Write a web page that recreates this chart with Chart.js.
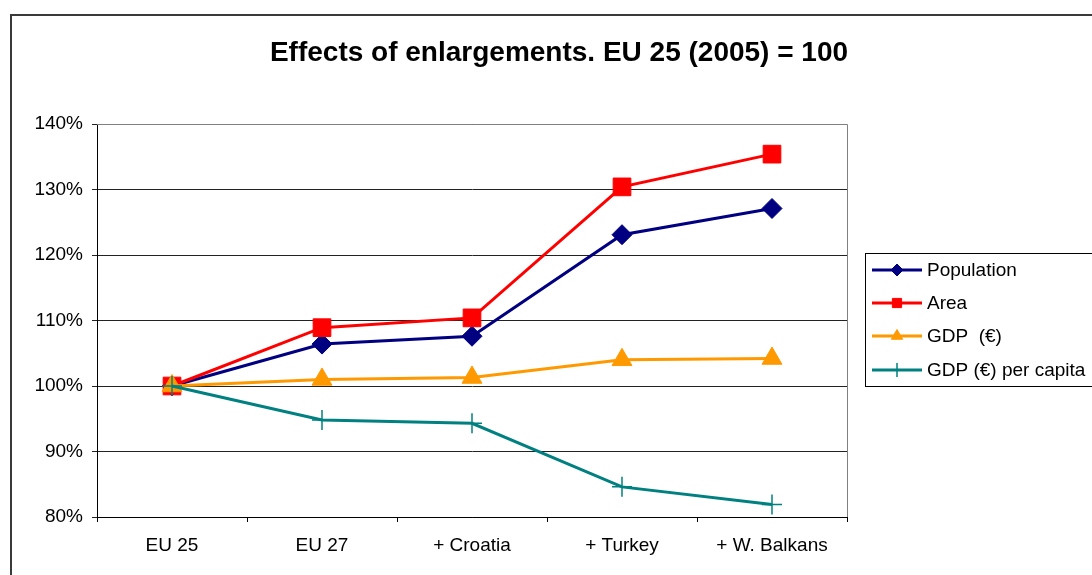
<!DOCTYPE html>
<html>
<head>
<meta charset="utf-8">
<title>Effects of enlargements</title>
<script src="https://cdn.jsdelivr.net/npm/chart.js@4"></script>
<style>
  html, body { margin: 0; padding: 0; background: #fff; }
  #wrap { width: 1092px; height: 575px; position: relative; }
</style>
</head>
<body>
<div id="wrap"><canvas id="chart" width="1092" height="575"></canvas></div>
<script>
// DATA
// =============================================================================

const CHART_TITLE = "Effects of enlargements. EU 25 (2005) = 100";
const categories = ["EU 25", "EU 27", "+ Croatia", "+ Turkey", "+ W. Balkans"];
const yTicks = [80, 90, 100, 110, 120, 130, 140];

const population = [100, 106.4, 107.6, 123.1, 127.1];
const area = [100, 108.9, 110.4, 130.4, 135.4];
const gdp = [100, 101.0, 101.3, 104.0, 104.2];
const gdpPerCapita = [100, 94.8, 94.3, 84.6, 81.9];

const seriesNames = ["Population", "Area", "GDP  (\u20ac)", "GDP (\u20ac) per capita"];

// LAYOUT / STYLE
// =============================================================================

const FONT = "'Liberation Sans', Arial, sans-serif";
const PLOT = { left: 97, right: 847, top: 124, bottom: 517 };

// Excel-like frame, title and boxed legend
const excelFramePlugin = {
  id: "excelFrame",
  beforeDraw(chart) {
    const { ctx } = chart;
    ctx.save();
    ctx.fillStyle = "#fff";
    ctx.fillRect(0, 0, chart.width, chart.height);
    ctx.strokeStyle = "#3a3a3a";
    ctx.lineWidth = 2;
    ctx.strokeRect(11, 15, 1200, 700);
    ctx.restore();
  },
  afterDatasetsDraw(chart) {
    const { ctx, chartArea } = chart;
    ctx.save();

    // plot area border (top / right in grey)
    ctx.strokeStyle = "#808080";
    ctx.lineWidth = 1;
    ctx.beginPath();
    ctx.moveTo(chartArea.left, Math.round(chartArea.top) + 0.5);
    ctx.lineTo(Math.round(chartArea.right) + 0.5, Math.round(chartArea.top) + 0.5);
    ctx.lineTo(Math.round(chartArea.right) + 0.5, chartArea.bottom);
    ctx.stroke();

    // title
    ctx.fillStyle = "#000";
    ctx.font = `bold 28px ${FONT}`;
    ctx.textAlign = "center";
    ctx.textBaseline = "middle";
    ctx.fillText(CHART_TITLE, 559, 53);

    // legend
    ctx.strokeStyle = "#000";
    ctx.lineWidth = 1;
    ctx.strokeRect(865.5, 253.5, 300, 133);
    ctx.font = `19px ${FONT}`;
    ctx.textAlign = "left";
    const rowY = [270, 303, 336, 370];
    chart.data.datasets.forEach((ds, i) => {
      const y = rowY[i];
      ctx.strokeStyle = ds.borderColor;
      ctx.lineWidth = 3;
      ctx.beginPath();
      ctx.moveTo(872, y);
      ctx.lineTo(922, y);
      ctx.stroke();
      ctx.fillStyle = ds.backgroundColor;
      ctx.lineWidth = ds.pointStyle === "cross" ? 1.5 : 1;
      Chart.helpers.drawPoint(ctx, {
        pointStyle: ds.pointStyle,
        radius: ds.legendRadius,
        borderWidth: ctx.lineWidth,
      }, 897, y);
      ctx.fillStyle = "#000";
      ctx.fillText(ds.label, 927, y + 1);
    });
    ctx.restore();
  },
};

const makeSeries = (label, data, color, pointStyle, radius, legendRadius, order) => ({
  label,
  data,
  borderColor: color,
  backgroundColor: color,
  pointBackgroundColor: color,
  pointBorderColor: color,
  borderWidth: 3,
  pointStyle,
  pointRadius: radius,
  pointBorderWidth: pointStyle === "cross" ? 1.5 : 1,
  legendRadius,
  tension: 0,
  order,
});

new Chart(document.getElementById("chart"), {
  type: "line",
  data: {
    labels: categories,
    datasets: [
      makeSeries(seriesNames[0], population, "#000080", "rectRot", 10, 6, 3),
      makeSeries(seriesNames[1], area, "#ff0000", "rect", 12.5, 6.5, 2),
      makeSeries(seriesNames[2], gdp, "#ff9900", "triangle", 11.5, 6.5, 1),
      makeSeries(seriesNames[3], gdpPerCapita, "#008080", "cross", 10, 7, 0),
    ],
  },
  options: {
    responsive: false,
    animation: false,
    layout: {
      padding: { top: PLOT.top, right: 1092 - PLOT.right, left: 0, bottom: 0 },
    },
    plugins: {
      legend: { display: false },
      title: { display: false },
      tooltip: { enabled: false },
    },
    scales: {
      x: {
        offset: true,
        afterFit: (scale) => { scale.height = 575 - PLOT.bottom; },
        grid: {
          offset: true,
          drawOnChartArea: false,
          drawTicks: true,
          tickLength: 5,
          color: "#000",
        },
        border: { color: "#000", width: 1 },
        ticks: {
          color: "#000",
          font: { family: FONT, size: 19 },
          padding: 12,
          maxRotation: 0,
        },
      },
      y: {
        min: yTicks[0],
        max: yTicks[yTicks.length - 1],
        afterFit: (scale) => { scale.width = PLOT.left; },
        afterBuildTicks: (scale) => { scale.ticks = yTicks.map((v) => ({ value: v })); },
        grid: {
          color: "#222",
          lineWidth: 1,
          drawTicks: true,
          tickLength: 5,
        },
        border: { color: "#000", width: 1 },
        ticks: {
          color: "#000",
          font: { family: FONT, size: 19 },
          padding: 9,
          callback: (v) => `${v}%`,
        },
      },
    },
  },
  plugins: [excelFramePlugin],
});
</script>
</body>
</html>
